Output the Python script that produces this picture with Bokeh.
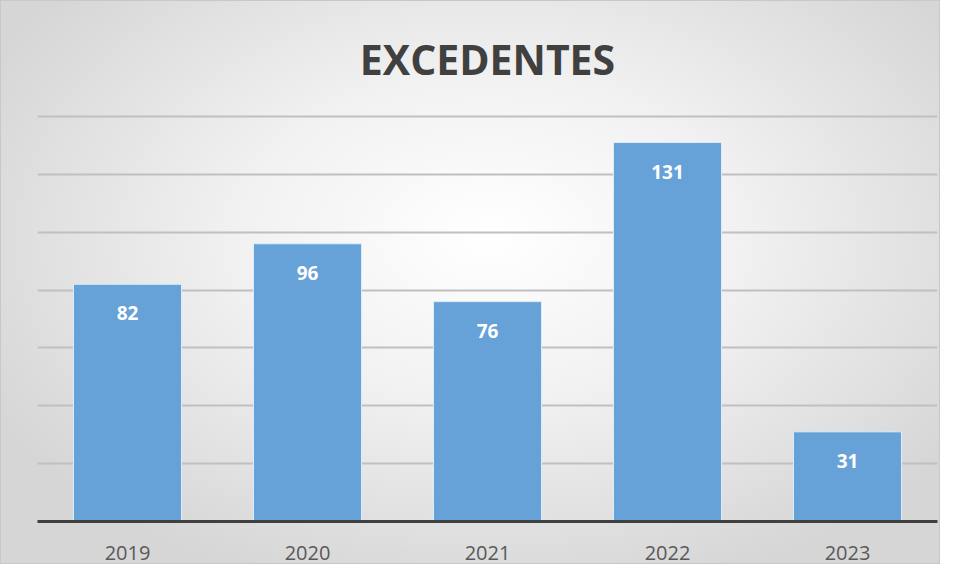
from bokeh.plotting import figure
from bokeh.models import ColumnDataSource, FactorRange, Range1d, FixedTicker, LabelSet, Label, InlineStyleSheet
from bokeh.core.properties import value
from bokeh.embed import file_html
from bokeh.resources import INLINE

# ---- data ----
years = ["2019", "2020", "2021", "2022", "2023"]
values = [82, 96, 76, 131, 31]
grid_ticks = [20, 40, 60, 80, 100, 120, 140]
title_text = "EXCEDENTES"

FONT = "Open Sans"

src = ColumnDataSource(dict(x=years, top=values, lbl=[str(v) for v in values]))

p = figure(
    width=940, height=564,
    x_range=FactorRange(*years, range_padding=0),
    y_range=Range1d(0, 180.1),
    output_backend="svg", toolbar_location=None,
    min_border_left=37, min_border_right=3, min_border_top=0, min_border_bottom=43,
)
p.border_fill_color = None
p.background_fill_color = None
p.outline_line_color = None
p.stylesheets = [InlineStyleSheet(css=":host { background: radial-gradient(ellipse 60% 65% at 52% 42%, #ffffff 0%, #f1f1f1 45%, #d6d6d6 100%); box-shadow: inset 0 0 0 1px #c8c8c8; }")]

p.vbar(x="x", top="top", width=0.6, source=src, fill_color="#66A1D8", line_color="#dcecf8", line_width=1)

labels = LabelSet(x="x", y="top", text="lbl", source=src, y_offset=-22, text_baseline="top", text_align="center",
                  text_color="white", text_font=value(FONT), text_font_style="bold", text_font_size="19px")
p.add_layout(labels)

title = Label(x=2.5, y=160, text=title_text, text_align="center", text_baseline="middle",
              text_font=FONT, text_font_style="bold", text_font_size="41px", text_color="#404040")
p.add_layout(title)

p.yaxis.visible = False
p.ygrid.ticker = FixedTicker(ticks=grid_ticks)
p.ygrid.grid_line_color = "#c0c0c0"
p.ygrid.grid_line_width = 2
p.xgrid.grid_line_color = None

ax = p.xaxis[0]
ax.axis_line_color = "#404040"
ax.axis_line_width = 3
ax.major_tick_line_color = None
ax.minor_tick_line_color = None
ax.major_tick_out = 0
ax.major_label_standoff = 24
ax.major_label_text_font = FONT
ax.major_label_text_font_size = "20px"
ax.major_label_text_color = "#595959"

open("out.html", "w").write(file_html(p, INLINE))
